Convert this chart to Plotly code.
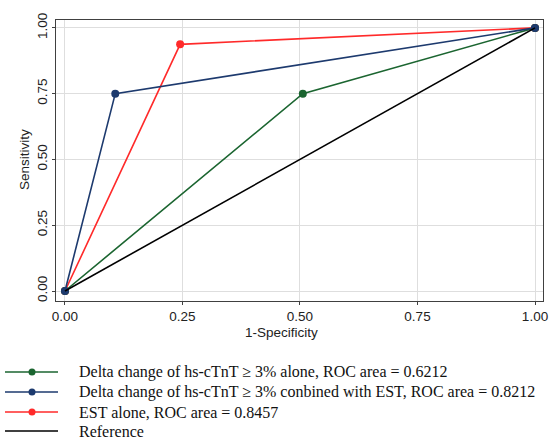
import plotly.graph_objects as go

# Data
fpr_delta = [0.0, 0.506, 1.0]
tpr_delta = [0.0, 0.75, 1.0]
fpr_comb = [0.0, 0.107, 1.0]
tpr_comb = [0.0, 0.75, 1.0]
fpr_est = [0.0, 0.245, 1.0]
tpr_est = [0.0, 0.9375, 1.0]
ref_x = [0.0, 1.0]
ref_y = [0.0, 1.0]
tick_vals = [0, 0.25, 0.5, 0.75, 1.0]
tick_text = ["0.00", "0.25", "0.50", "0.75", "1.00"]
x_title = "1-Specificity"
y_title = "Sensitivity"

names = [
    "Delta change of hs-cTnT \u2265 3% alone, ROC area = 0.6212",
    "Delta change of hs-cTnT \u2265 3% conbined with EST, ROC area = 0.8212",
    "EST alone, ROC area = 0.8457",
    "Reference",
]
GREEN = "#1b6530"
NAVY = "#1d3a6e"
RED = "#ff2a2a"
colors = [GREEN, NAVY, RED, "black"]
has_marker = [True, True, True, False]

W, H = 553, 439
L, R, T, B = 56, 10, 20, 138
PW, PH = W - L - R, H - T - B

fig = go.Figure()
fig.add_trace(go.Scatter(x=fpr_est, y=tpr_est, mode="lines+markers", name=names[2],
                         line=dict(color=RED, width=1.6), marker=dict(color=RED, size=8)))
fig.add_trace(go.Scatter(x=fpr_delta, y=tpr_delta, mode="lines+markers", name=names[0],
                         line=dict(color=GREEN, width=1.6), marker=dict(color=GREEN, size=8)))
fig.add_trace(go.Scatter(x=fpr_comb, y=tpr_comb, mode="lines+markers", name=names[1],
                         line=dict(color=NAVY, width=1.6), marker=dict(color=NAVY, size=8)))
fig.add_trace(go.Scatter(x=ref_x, y=ref_y, mode="lines", name=names[3],
                         line=dict(color="black", width=1.6)))

axis_common = dict(
    tickvals=tick_vals, ticktext=tick_text, showgrid=True, gridcolor="#dedede", gridwidth=1,
    zeroline=False, showline=True, linecolor="#404040", linewidth=1.2, mirror=True,
    ticks="outside", ticklen=3, tickcolor="#404040", automargin=False,
    tickfont=dict(family="Liberation Sans, Arial", size=13.5, color="#222"),
)
title_font = dict(family="Liberation Sans, Arial", size=13.5, color="#222")
fig.update_xaxes(range=[-0.0191, 1.017], **axis_common)
fig.update_yaxes(range=[-0.038, 1.030], tickangle=-90, **axis_common)


def px_x(X):
    return (X - L) / PW


def px_y(Y):
    return (H - B - Y) / PH


# Axis titles
fig.add_annotation(xref="paper", yref="paper", x=px_x(281), y=px_y(332), xanchor="center",
                   yanchor="middle", text=x_title, showarrow=False, font=title_font)
fig.add_annotation(xref="paper", yref="paper", x=px_x(24), y=px_y(160), xanchor="center",
                   yanchor="middle", text=y_title, textangle=-90, showarrow=False, font=title_font)

# Custom legend below the plot
row_y = [372, 392, 412, 431]
for i, name in enumerate(names):
    yy = px_y(row_y[i])
    fig.add_shape(type="line", xref="paper", yref="paper", x0=px_x(5), x1=px_x(58), y0=yy, y1=yy,
                  line=dict(color=colors[i], width=1.6))
    if has_marker[i]:
        fig.add_shape(type="circle", xref="paper", yref="paper", xsizemode="pixel", ysizemode="pixel",
                      xanchor=px_x(32), yanchor=yy, x0=-3.5, x1=3.5, y0=-3.5, y1=3.5,
                      fillcolor=colors[i], line=dict(color=colors[i], width=0))
    fig.add_annotation(xref="paper", yref="paper", x=px_x(77), y=yy, xanchor="left", yanchor="middle",
                       text=name, showarrow=False,
                       font=dict(family="Liberation Serif, Times New Roman", size=16, color="#111"))

fig.update_layout(
    width=W, height=H,
    margin=dict(l=L, r=R, t=T, b=B, autoexpand=False),
    plot_bgcolor="white", paper_bgcolor="white",
    showlegend=False,
)

fig.write_html("out.html", config={"displayModeBar": False},
               post_script="document.body.style.margin='0px';document.body.style.overflow='hidden';")
